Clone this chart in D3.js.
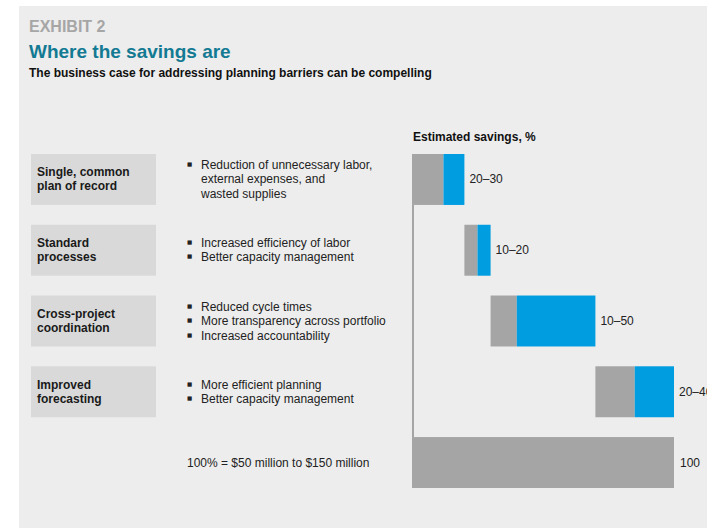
<!DOCTYPE html>
<html>
<head>
<meta charset="utf-8">
<script src="https://cdn.jsdelivr.net/npm/d3@7"></script>
<style>
  html, body { margin: 0; padding: 0; background: #ffffff; }
  svg { display: block; font-family: "Liberation Sans", Arial, Helvetica, sans-serif; }
</style>
</head>
<body>
<svg id="chart" width="707" height="528"></svg>
<script>
// ---- Data ----
const levers = [
  ["Single, common", "plan of record"],
  ["Standard", "processes"],
  ["Cross-project", "coordination"],
  ["Improved", "forecasting"]
];
const benefits = [
  ["Reduction of unnecessary labor,", "external expenses, and", "wasted supplies"],
  ["Increased efficiency of labor", "Better capacity management"],
  ["Reduced cycle times", "More transparency across portfolio", "Increased accountability"],
  ["More efficient planning", "Better capacity management"]
];
const grayValues = [12, 5, 10, 15];
const blueValues = [8, 5, 30, 15];
const rangeLabels = ["20–30", "10–20", "10–50", "20–40"];
const totalValue = 100;
const totalLabel = "100";
const totalNote = "100% = $50 million to $150 million";
const rowKeys = ["r0", "r1", "r2", "r3", "total"];

// ---- Layout ----
const svg = d3.select("#chart");
const W = 707, H = 528;
const GRAY = "#a5a5a5", BLUE = "#009ee0", BOX = "#d9d9d9", BG = "#ededed";

svg.append("rect").attr("x", 19).attr("y", 6).attr("width", W - 19).attr("height", H - 6).attr("fill", BG);

svg.append("text").attr("x", 29).attr("y", 32).attr("font-size", 16).attr("font-weight", "bold")
  .attr("fill", "#a6a6a6").text("EXHIBIT 2");
svg.append("text").attr("x", 29).attr("y", 58).attr("font-size", 19).attr("font-weight", "bold")
  .attr("fill", "#137a93").text("Where the savings are");
svg.append("text").attr("x", 29).attr("y", 77).attr("font-size", 12).attr("font-weight", "bold")
  .attr("fill", "#111").text("The business case for addressing planning barriers can be compelling");

const x = d3.scaleLinear().domain([0, 100]).range([412, 674]);
const y = d3.scaleBand().domain(rowKeys).range([154, 488]).paddingInner(0.28).paddingOuter(0);
const bw = y.bandwidth();

svg.append("text").attr("x", x(0) + 1).attr("y", 141).attr("font-size", 12).attr("font-weight", "bold")
  .attr("fill", "#111").text("Estimated savings, %");

// Left boxes
levers.forEach((lines, i) => {
  const top = y(rowKeys[i]);
  const cy = top + bw / 2;
  svg.append("rect").attr("x", 31).attr("y", top).attr("width", 125).attr("height", bw).attr("fill", BOX);
  const lh = 14;
  lines.forEach((t, j) => {
    svg.append("text").attr("x", 37).attr("y", cy + (j - (lines.length - 1) / 2) * lh)
      .attr("dominant-baseline", "central").attr("font-size", 12).attr("font-weight", "bold")
      .attr("fill", "#1a1a1a").text(t);
  });
});

// Bullets
benefits.forEach((lines, i) => {
  const cy = y(rowKeys[i]) + bw / 2;
  const lh = 14.5;
  const isList = i !== 0;
  lines.forEach((t, j) => {
    const ly = cy + (j - (lines.length - 1) / 2) * lh;
    if (isList || j === 0) {
      svg.append("text").attr("x", 187).attr("y", ly - 1).attr("dominant-baseline", "central")
        .attr("font-family", "DejaVu Sans").attr("font-size", 5.5).attr("fill", "#222").text("■");
    }
    svg.append("text").attr("x", 201).attr("y", ly).attr("dominant-baseline", "central")
      .attr("font-size", 12).attr("fill", "#222").text(t);
  });
});

svg.append("text").attr("x", 187).attr("y", y("total") + bw / 2).attr("dominant-baseline", "central")
  .attr("font-size", 12).attr("fill", "#222").text(totalNote);

// Waterfall
let cum = 0;
const g = svg.append("g");
grayValues.forEach((gv, i) => {
  const top = y(rowKeys[i]);
  const s = cum, m = cum + gv, e = cum + gv + blueValues[i];
  g.append("rect").attr("x", x(s)).attr("y", top).attr("width", x(m) - x(s)).attr("height", bw).attr("fill", GRAY);
  g.append("rect").attr("x", x(m)).attr("y", top).attr("width", x(e) - x(m)).attr("height", bw).attr("fill", BLUE);
  g.append("text").attr("x", x(e) + 5).attr("y", top + bw / 2).attr("dominant-baseline", "central")
    .attr("font-size", 12).attr("fill", "#222").text(rangeLabels[i]);
  cum = e;
});

// connector line
g.append("rect").attr("x", x(0)).attr("y", y("r0") + bw).attr("width", 2)
  .attr("height", y("total") - (y("r0") + bw)).attr("fill", GRAY);

// total bar
g.append("rect").attr("x", x(0)).attr("y", y("total")).attr("width", x(totalValue) - x(0)).attr("height", bw).attr("fill", GRAY);
g.append("text").attr("x", x(totalValue) + 6).attr("y", y("total") + bw / 2).attr("dominant-baseline", "central")
  .attr("font-size", 12).attr("fill", "#222").text(totalLabel);
</script>
</body>
</html>
